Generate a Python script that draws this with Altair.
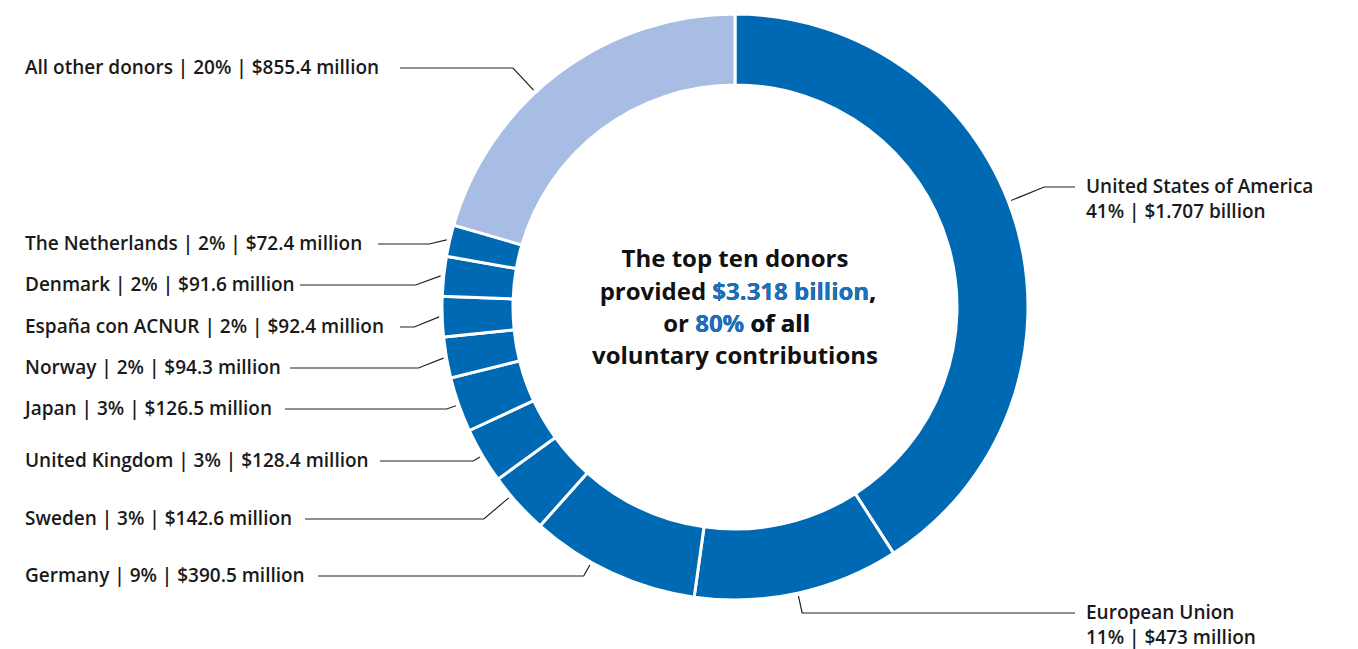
import math
import altair as alt
import pandas as pd

# ---- data (USD millions) ----
donors = ["United States of America", "European Union", "Germany", "Sweden",
          "United Kingdom", "Japan", "Norway", "España con ACNUR", "Denmark",
          "The Netherlands", "All other donors"]
amounts = [1707, 473, 390.5, 142.6, 128.4, 126.5, 94.3, 92.4, 91.6, 72.4, 855.4]
shares = ["41%", "11%", "9%", "3%", "3%", "3%", "2%", "2%", "2%", "2%", "20%"]
amount_text = ["$1.707 billion", "$473 million", "$390.5 million", "$142.6 million",
               "$128.4 million", "$126.5 million", "$94.3 million", "$92.4 million",
               "$91.6 million", "$72.4 million", "$855.4 million"]
groups = ["top"] * 10 + ["other"]

# ---- layout (chart pixel coordinates) ----
W, H = 1342, 641
CX, CY = 727, 299
R_OUT, R_IN = 293, 222
R_ANCHOR = 296
label_side = [1, 1, -1, -1, -1, -1, -1, -1, -1, -1, -1]
label_x = [1078, 1078, 17, 17, 17, 17, 17, 17, 17, 17, 17]
label_y = [179, 605, 568, 511, 453, 401, 360, 319, 277, 236, 60]
line_end_x = [1067, 1067, 310, 297, 372, 277, 282, 392, 292, 370, 392]
anchor_shift_deg = [-4.7, 0, 4.5, 2.0, 0, 0, 0, 0, 0, 0, -6.0]

FONT = "Open Sans"

arc_df = pd.DataFrame({"idx": range(len(donors)), "donor": donors,
                       "amount": amounts, "group": groups})

# leader lines computed from slice mid-angles
total = sum(amounts)
rows = []
cum = 0.0
for i, a in enumerate(amounts):
    mid = (cum + a / 2) / total * 2 * math.pi + math.radians(anchor_shift_deg[i])
    cum += a
    ax = CX + R_ANCHOR * math.sin(mid)
    ay = CY - R_ANCHOR * math.cos(mid)
    dy = label_y[i] - ay
    c = -math.cos(mid)
    dxr = abs(dy * math.sin(mid) / c) if abs(c) > 1e-6 else 25
    cap = 33 if label_side[i] > 0 else 25
    ex = ax + label_side[i] * min(cap, dxr)
    pts = [(ax, ay), (ex, label_y[i]), (line_end_x[i], label_y[i])]
    for k, (px, py) in enumerate(pts):
        rows.append({"donor": donors[i], "k": k, "px": px, "py": py})
line_df = pd.DataFrame(rows)

lab_rows = []
for i in range(len(donors)):
    if label_side[i] > 0:
        lab_rows.append({"t": donors[i], "px": label_x[i], "py": label_y[i]})
        lab_rows.append({"t": f"{shares[i]} | {amount_text[i]}", "px": label_x[i], "py": label_y[i] + 25})
    else:
        lab_rows.append({"t": f"{donors[i]} | {shares[i]} | {amount_text[i]}",
                         "px": label_x[i], "py": label_y[i]})
lab_df = pd.DataFrame(lab_rows)

# centre text; mixed colours drawn as right-aligned overlays on the same end point
L2_END, L3_END = 868, 802
center_rows = [
    {"t": "The top ten donors", "px": CX, "py": 252, "al": "center", "c": "black", "z": 0},
    {"t": "voluntary contributions", "px": CX, "py": 349, "al": "center", "c": "black", "z": 0},
    {"t": "provided $3.318 billion,", "px": L2_END, "py": 285, "al": "right", "c": "black", "z": 0},
    {"t": "or 80% of all", "px": L3_END, "py": 317, "al": "right", "c": "black", "z": 0},
    {"t": "$3.318 billion,", "px": L2_END, "py": 285, "al": "right", "c": "blue", "z": 1},
    {"t": "80% of all", "px": L3_END, "py": 317, "al": "right", "c": "blue", "z": 1},
    {"t": ",", "px": L2_END, "py": 285, "al": "right", "c": "black", "z": 2},
    {"t": "of all", "px": L3_END, "py": 317, "al": "right", "c": "black", "z": 2},
]
center_df = pd.DataFrame(center_rows)

arc = alt.Chart(arc_df).mark_arc(
    innerRadius=R_IN, outerRadius=R_OUT, stroke="white", strokeWidth=3
).encode(
    theta=alt.Theta("amount:Q", stack=True),
    order=alt.Order("idx:Q"),
    color=alt.Color("group:N", scale=alt.Scale(domain=["top", "other"],
                                               range=["#0069b4", "#a7bde4"]), legend=None),
    x=alt.value(CX), y=alt.value(CY),
)

lines = alt.Chart(line_df).mark_line(color="#222222", strokeWidth=1.2).encode(
    x=alt.X("px:Q", scale=None, axis=None),
    y=alt.Y("py:Q", scale=None, axis=None),
    detail="donor:N",
    order="k:Q",
)

labels = alt.Chart(lab_df).mark_text(
    align="left", baseline="middle", font=FONT, fontSize=19, fontWeight=600, color="#1a1a1a"
).encode(
    x=alt.X("px:Q", scale=None, axis=None),
    y=alt.Y("py:Q", scale=None, axis=None),
    text="t:N",
)

def center_layer(z, al, c):
    d = center_df[(center_df.z == z) & (center_df.al == al) & (center_df.c == c)]
    return alt.Chart(d).mark_text(
        align=al, baseline="middle", font=FONT, fontSize=24, fontWeight="bold",
        color="#111111" if c == "black" else "#1a72bf"
    ).encode(
        x=alt.X("px:Q", scale=None, axis=None),
        y=alt.Y("py:Q", scale=None, axis=None),
        text="t:N",
    )

center_layers = []
for z in [0, 1, 2]:
    for al in ["center", "right"]:
        for c in ["black", "blue"]:
            if len(center_df[(center_df.z == z) & (center_df.al == al) & (center_df.c == c)]):
                center_layers.append(center_layer(z, al, c))

chart = alt.layer(arc, lines, labels, *center_layers).properties(
    width=W, height=H, padding=0, autosize="none"
).configure_view(stroke=None)

chart.save("out.html", embed_options={"renderer": "svg", "actions": False})
